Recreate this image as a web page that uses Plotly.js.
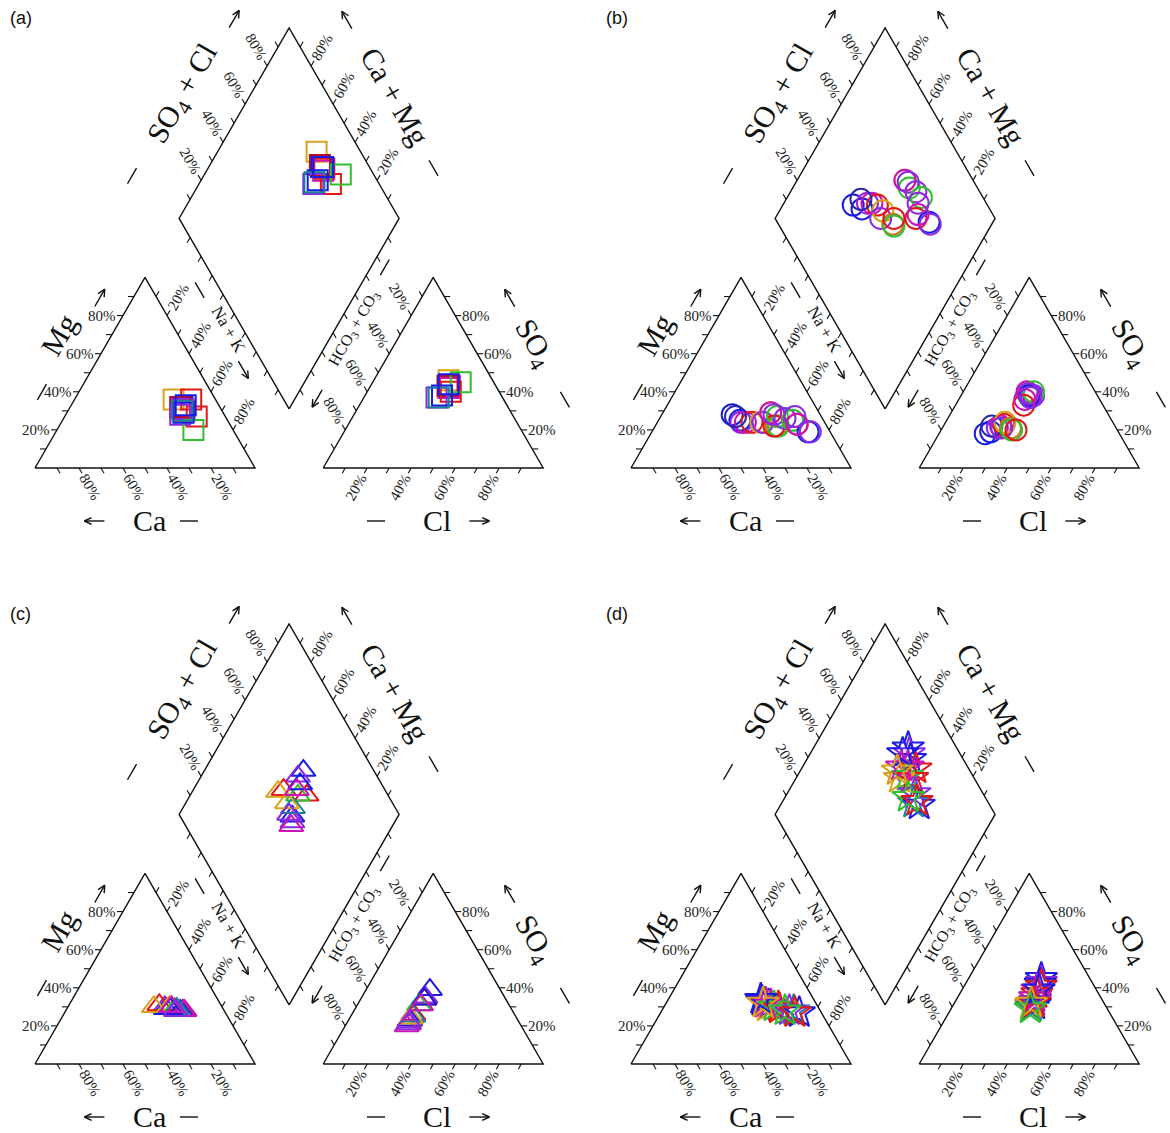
<!DOCTYPE html>
<html><head><meta charset="utf-8">
<script src="https://cdn.plot.ly/plotly-3.0.1.min.js"></script>
<style>html,body{margin:0;padding:0;background:#fff}</style>
</head><body><div id="chart" style="width:1170px;height:1133px"></div>
<script>
// ---------------- DATA (percent of meq) ----------------
const tickValues = [20, 40, 60, 80];
const panelTags = ['(a)', '(b)', '(c)', '(d)'];

// (a) squares
const aCa  = [19, 11, 17, 17, 17, 18, 13, 20, 18, 18, 18, 15];
const aMg  = [36, 36, 32, 31, 30, 32, 27, 28, 20, 29, 30, 33];
const aCl  = [34, 36, 36, 36, 36, 35, 38, 33, 40, 35, 34, 35];
const aSO4 = [46, 43, 42, 43, 42, 43, 40, 37, 45, 38, 37, 44];
const aCol = ['orange','red','blue','purple','magenta','darkred','red','purple','green','blue','teal','blue'];

// (b) circles
const bCa  = [40, 38, 38, 36, 33, 39, 29, 28, 23, 22, 24, 22, 20, 22, 21, 17, 14, 13, 10, 9, 13, 12];
const bMg  = [28, 25, 24, 24, 24, 27, 24, 24, 22, 22, 22, 29, 27, 29, 28, 26, 25, 23, 19, 19, 23, 27];
const bCl  = [21, 23, 25, 26, 27, 22, 27, 27, 31, 32, 34, 30, 31, 29, 32, 33, 32, 31, 31, 30, 30, 32];
const bSO4 = [18, 19, 21, 22, 23, 22, 24, 21, 21, 20, 20, 39, 38, 40, 38, 38, 40, 33, 38, 39, 36, 37];
const bCol = ['blue','blue','purple','magenta','red','darkblue','orange','purple','brown','green','red',
              'orange','green','magenta','purple','purple','green','red','blue','purple','magenta','purple'];

// (c) triangles
const cCa  = [26, 26, 28, 31, 19, 22, 20, 18.5, 18, 21, 24, 24, 23, 22];
const cMg  = [29, 30, 31, 30, 28, 29, 28, 28, 28, 29, 30, 29, 30, 28];
const cCl  = [29, 29, 28, 28, 29, 28, 28, 28.5, 28, 28.5, 28, 29, 29, 28];
const cSO4 = [39, 35, 26, 23, 34, 31, 23, 21, 20, 25, 24, 34, 31, 22];
const cCol = ['blue','purple','red','orange','red','green','blue','purple','magenta','teal','orange','blue','magenta','purple'];

// (d) stars
const dCa  = [24, 23, 22, 18, 21, 23, 20, 18, 10, 12, 14, 23, 24, 12, 24, 16];
const dMg  = [33, 32, 31, 30, 31, 30, 30, 29, 27, 28, 28, 32, 34, 27, 32, 28];
const dCl  = [33, 34, 34, 35, 34, 35, 35, 35, 37, 36, 36, 35, 35, 36, 35, 36];
const dSO4 = [45, 43, 42, 41, 39, 31, 35, 37, 31, 30, 33, 35, 39, 32, 32, 29];
const dCol = ['blue','purple','blue','red','magenta','orange','green','red','blue','teal','purple','magenta','blue','red','orange','green'];

// ---------------- STYLE / LAYOUT ----------------
const palette = {blue:'#1a1ae6', purple:'#8a2be2', red:'#e01818', orange:'#d9a21b', green:'#2fbf2f',
  magenta:'#cc14b4', darkred:'#b0102a', teal:'#1a7f9a', darkblue:'#2a2aa8', brown:'#c8701a'};
const S = 220, H = Math.sqrt(3)/2, G = 0.31;
const SERIF = 'Liberation Serif, Times New Roman, serif';
const panels = [
  {tag:panelTags[0], ox:35,  oy:468,  sym:'square-open',      size:20, ca:aCa, mg:aMg, cl:aCl, so4:aSO4, col:aCol},
  {tag:panelTags[1], ox:631, oy:468,  sym:'circle-open',      size:21, ca:bCa, mg:bMg, cl:bCl, so4:bSO4, col:bCol},
  {tag:panelTags[2], ox:35,  oy:1064, sym:'triangle-up-open', size:21, ca:cCa, mg:cMg, cl:cCl, so4:cSO4, col:cCol},
  {tag:panelTags[3], ox:631, oy:1064, sym:'star-open',        size:24, ca:dCa, mg:dMg, cl:dCl, so4:dSO4, col:dCol}
];

function lerp(p, q, f){ return [p[0]+(q[0]-p[0])*f, p[1]+(q[1]-p[1])*f]; }
function add(p, v, k){ return [p[0]+v[0]*k, p[1]+v[1]*k]; }
function geom(ox, oy){
  const A=[ox,oy], B=[ox+S,oy], C=[ox+S/2, oy-S*H];
  const R0=[ox+S*(1+G),oy], R1=[ox+S*(2+G),oy], RC=[ox+S*(1.5+G), oy-S*H];
  const DB=[ox+S*(1+G/2), oy-S*G*H];
  const DL=[DB[0]-S/2, DB[1]-S*H], DR=[DB[0]+S/2, DB[1]-S*H], DT=[DB[0], DB[1]-2*S*H];
  return {A,B,C,R0,R1,RC,DB,DL,DR,DT};
}
function catXY(g, ca, mg){ const nak=100-ca-mg; return [g.A[0]+S*(nak/100+mg/200), g.A[1]-S*H*mg/100]; }
function anXY(g, cl, so4){ return [g.R0[0]+S*(cl/100+so4/200), g.R0[1]-S*H*so4/100]; }
function dmXY(g, ca, mg, cl, so4){ const cm=(ca+mg)/100, sc=(cl+so4)/100; return [g.DB[0]+S*0.5*(sc-cm), g.DB[1]-S*H*(sc+cm)]; }

const traces = [], annotations = [];
const lineStyle = {color:'#111', width:1.4};

panels.forEach(P => {
  const g = geom(P.ox, P.oy);
  const ox=[], oy=[];
  const seg = (p,q)=>{ ox.push(p[0],q[0],null); oy.push(p[1],q[1],null); };
  [[g.A,g.B,g.C,g.A],[g.R0,g.R1,g.RC,g.R0],[g.DB,g.DR,g.DT,g.DL,g.DB]].forEach(poly=>{
    poly.forEach(p=>{ox.push(p[0]); oy.push(p[1]);}); ox.push(null); oy.push(null);
  });

  const axes = [
    {pt:t=>lerp(g.B,g.A,t),  dir:[0.5,H],   ang:60,  lab:'rot'},   // Ca
    {pt:t=>lerp(g.A,g.C,t),  dir:[-1,0],    ang:0,   lab:'right'}, // Mg
    {pt:t=>lerp(g.C,g.B,t),  dir:[0.5,-H],  ang:-60, lab:'rot'},   // Na+K
    {pt:t=>lerp(g.R0,g.R1,t),dir:[-0.5,H],  ang:-60, lab:'rot'},   // Cl
    {pt:t=>lerp(g.R1,g.RC,t),dir:[1,0],     ang:0,   lab:'left'},  // SO4
    {pt:t=>lerp(g.RC,g.R0,t),dir:[-0.5,-H], ang:60,  lab:'rot'},   // HCO3+CO3
    {pt:t=>lerp(g.DL,g.DT,t),dir:[-0.5,-H], ang:60,  lab:'rot'},   // SO4+Cl
    {pt:t=>lerp(g.DR,g.DT,t),dir:[0.5,-H],  ang:-60, lab:'rot'},   // Ca+Mg
    {pt:t=>lerp(g.DB,g.DL,t),dir:[-0.5,H],  lab:null},
    {pt:t=>lerp(g.DB,g.DR,t),dir:[0.5,H],   lab:null}
  ];
  const tx=[], ty=[];
  axes.forEach(ax=>{
    for(let k=1;k<=9;k++){
      const p=ax.pt(k/10), q=add(p,ax.dir,6);
      tx.push(p[0],q[0],null); ty.push(p[1],q[1],null);
    }
    if(!ax.lab) return;
    tickValues.forEach(v=>{
      const p=ax.pt(v/100);
      if(ax.lab==='rot'){
        const q=add(p,ax.dir,22);
        annotations.push({x:q[0],y:q[1],text:v+'%',textangle:ax.ang,showarrow:false,xanchor:'center',yanchor:'middle',
          font:{family:SERIF,size:15,color:'#222'}});
      } else {
        const q=add(p,ax.dir,5);
        annotations.push({x:q[0],y:q[1],text:v+'%',showarrow:false,xanchor:ax.lab,yanchor:'middle',
          font:{family:SERIF,size:15,color:'#222'}});
      }
    });
  });
  traces.push({x:tx, y:ty, mode:'lines', line:{color:'#111',width:1.1}, hoverinfo:'skip'});

  // axis titles
  const nL=[-H,-0.5], nR=[H,-0.5], nB=[0,1];
  const UR=[0.5,-H], DRd=[0.5,H], UL=[-0.5,-H], DLd=[-0.5,H], LE=[-1,0], RI=[1,0];
  const titles = [
    [g.A,g.C,nL,[['dash',0.315,32],['Mg',0.58,46,30],['arrow',0.817,29,UR]],-60],
    [g.B,g.C,nR,[['arrow',0.413,39,DRd],['Na + K',0.605,46,17],['dash',0.826,41]],60],
    [g.A,g.B,nB,[['arrow',0.27,53,LE],['Ca',0.52,52,30],['dash',0.70,53]],0],
    [g.R0,g.R1,nB,[['dash',0.24,53],['Cl',0.515,52,30],['arrow',0.71,53,RI]],0],
    [g.R1,g.RC,nR,[['dash',0.22,53],['SO<sub>4</sub>',0.51,54,30],['arrow',0.745,56,UL]],60],
    [g.R0,g.RC,nL,[['arrow',0.26,40,DLd],['HCO<sub>3</sub> + CO<sub>3</sub>',0.62,43,16],['dash',0.93,47]],-60],
    [g.DL,g.DT,nL,[['dash',0.06,62],['SO<sub>4</sub> + Cl',0.50,58,30],['arrow',0.91,52,UR]],-60],
    [g.DR,g.DT,nR,[['dash',0.12,55],['Ca + Mg',0.49,58,30],['arrow',0.90,54,UL]],60]
  ];
  titles.forEach(([p0,p1,n,items,ang])=>{
    const len=Math.hypot(p1[0]-p0[0],p1[1]-p0[1]);
    const sd=[(p1[0]-p0[0])/len,(p1[1]-p0[1])/len];
    items.forEach(it=>{
      const q=add(lerp(p0,p1,it[1]),n,it[2]);
      if(it[0]==='dash'){
        seg(add(q,sd,-9), add(q,sd,9));
      } else if(it[0]==='arrow'){
        const d=it[3], tip=add(q,d,10), tail=add(q,d,-10);
        seg(tail,tip);
        const c=Math.cos(Math.PI/7), s=Math.sin(Math.PI/7);
        const b1=[-(d[0]*c - d[1]*s), -(d[0]*s + d[1]*c)];
        const b2=[-(d[0]*c + d[1]*s), -(-d[0]*s + d[1]*c)];
        seg(tip, add(tip,b1,8)); seg(tip, add(tip,b2,8));
      } else {
        annotations.push({x:q[0],y:q[1],text:it[0],textangle:ang,showarrow:false,xanchor:'center',yanchor:'middle',
          font:{family:SERIF,size:it[3],color:'#111'}});
      }
    });
  });
  traces.push({x:ox, y:oy, mode:'lines', line:lineStyle, hoverinfo:'skip'});
  annotations.push({x:P.ox-27,y:P.oy-450,text:P.tag,showarrow:false,xanchor:'left',yanchor:'middle',
    font:{family:'Liberation Sans, Arial, sans-serif',size:18,color:'#111'}});

  // samples
  const mx=[], my=[], mc=[];
  P.ca.forEach((ca,i)=>{
    const mg=P.mg[i], cl=P.cl[i], so4=P.so4[i], c=palette[P.col[i]];
    [catXY(g,ca,mg), anXY(g,cl,so4), dmXY(g,ca,mg,cl,so4)].forEach(p=>{mx.push(p[0]); my.push(p[1]); mc.push(c);});
  });
  traces.push({x:mx, y:my, mode:'markers', hoverinfo:'skip',
    marker:{symbol:P.sym, size:P.size, color:mc, line:{width:2}}});
});

const layout = {
  width:1170, height:1133, margin:{l:0,r:0,t:0,b:0,pad:0},
  paper_bgcolor:'#fff', plot_bgcolor:'#fff', showlegend:false,
  xaxis:{range:[0,1170], visible:false, fixedrange:true},
  yaxis:{range:[1133,0], visible:false, fixedrange:true},
  annotations:annotations
};
Plotly.newPlot('chart', traces, layout, {staticPlot:true, displayModeBar:false});
</script></body></html>
